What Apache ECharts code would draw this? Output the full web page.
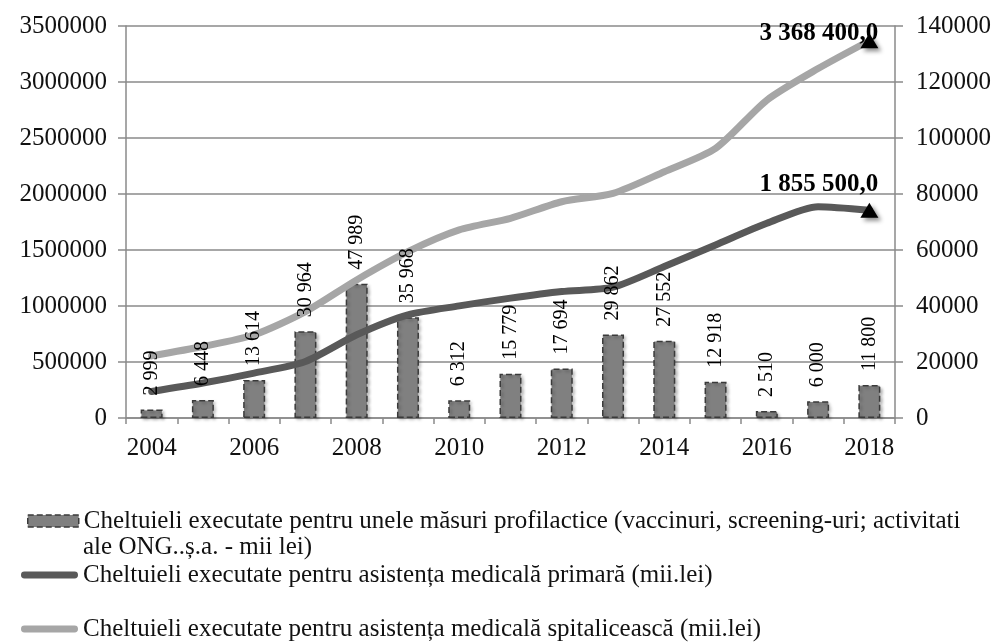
<!DOCTYPE html>
<html>
<head>
<meta charset="utf-8">
<script src="https://cdn.jsdelivr.net/npm/echarts@6/dist/echarts.min.js"></script>
<style>
html,body{margin:0;padding:0;background:#fff;}
#c{width:997px;height:642px;}
</style>
</head>
<body>
<div id="c"></div>
<script>
var years = ['2004','2005','2006','2007','2008','2009','2010','2011','2012','2013','2014','2015','2016','2017','2018'];
var profilactice = [2999, 6448, 13614, 30964, 47989, 35968, 6312, 15779, 17694, 29862, 27552, 12918, 2510, 6000, 11800];
var primara = [237000, 312000, 401000, 505000, 743000, 921000, 1001000, 1070000, 1129000, 1168000, 1352000, 1545000, 1738000, 1887000, 1855500];
var spitaliceasca = [555000, 638000, 743000, 950000, 1233000, 1485000, 1679000, 1783000, 1931000, 2006000, 2199000, 2407000, 2838000, 3120000, 3368400];
var endLabels = ['1 855 500,0', '3 368 400,0'];

var nameBar = 'Cheltuieli executate pentru unele măsuri profilactice (vaccinuri, screening-uri; activitati ale ONG..ș.a. - mii lei)';
var nameBarLine1 = 'Cheltuieli executate pentru unele măsuri profilactice (vaccinuri, screening-uri; activitati';
var nameBarLine2 = 'ale ONG..ș.a. - mii lei)';
var namePrim = 'Cheltuieli executate pentru asistența medicală primară (mii.lei)';
var nameSpit = 'Cheltuieli executate pentru asistența medicală spitalicească (mii.lei)';

var FONT = '"Liberation Serif", "Times New Roman", serif';
var GRID = '#8a8a8a';

function fmt(v){ return String(v).replace(/\B(?=(\d{3})+(?!\d))/g, ' '); }
function plain(v){ return String(v); }

function lineData(arr, lbl, dy){
  return arr.map(function(v, i){
    if (i === arr.length - 1) {
      return {
        value: v,
        symbol: 'triangle',
        symbolSize: [18, 15],
        itemStyle: {color: '#000', shadowBlur: 4, shadowOffsetX: 3, shadowOffsetY: 3, shadowColor: 'rgba(0,0,0,0.45)'},
        label: {
          show: true, formatter: lbl, position: [18, dy], align: 'right', verticalAlign: 'middle',
          fontFamily: FONT, fontSize: 25, fontWeight: 'bold', color: '#000'
        }
      };
    }
    return {value: v};
  });
}

var linePath = 'path://M3.5,0 H55.5 A3.5,3.5 0 0 1 55.5,7 H3.5 A3.5,3.5 0 0 1 3.5,0 Z';

var chart = echarts.init(document.getElementById('c'));
chart.setOption({
  animation: false,
  backgroundColor: '#fff',
  grid: {left: 126, right: 102, top: 26, bottom: 224},
  xAxis: {
    type: 'category', data: years, boundaryGap: true,
    axisLine: {lineStyle: {color: GRID, width: 1.5}},
    axisTick: {show: true, interval: 0, length: 6, lineStyle: {color: GRID, width: 1.5}},
    axisLabel: {interval: 1, margin: 18, fontFamily: FONT, fontSize: 25, color: '#111'}
  },
  yAxis: [{
    type: 'value', min: 0, max: 3500000, interval: 500000,
    axisLine: {show: true, lineStyle: {color: GRID, width: 1.5}},
    axisTick: {show: true, length: 8, lineStyle: {color: GRID, width: 1.5}},
    splitLine: {show: true, lineStyle: {color: GRID, width: 1.5}},
    axisLabel: {margin: 19, fontFamily: FONT, fontSize: 25, color: '#111', formatter: plain}
  }, {
    type: 'value', min: 0, max: 140000, interval: 20000, position: 'right',
    axisLine: {show: true, lineStyle: {color: GRID, width: 1.5}},
    axisTick: {show: true, length: 8, lineStyle: {color: GRID, width: 1.5}},
    splitLine: {show: false},
    axisLabel: {margin: 21, fontFamily: FONT, fontSize: 25, color: '#111', formatter: plain}
  }],
  legend: [{
    data: [{name: nameBar, icon: 'rect', itemStyle: {color: '#808080', borderColor: '#3a3a3a', borderWidth: 1.5, borderType: 'dashed'}}],
    formatter: function(){ return nameBarLine1; },
    left: 27, top: 507, padding: 0, itemWidth: 51, itemHeight: 12, selectedMode: false,
    textStyle: {fontFamily: FONT, fontSize: 25, color: '#111', lineHeight: 28}
  }, {
    data: [{name: namePrim, icon: linePath, itemStyle: {color: '#595959', borderWidth: 0}}],
    left: 21, top: 561, padding: 0, itemWidth: 57, itemHeight: 7, selectedMode: false,
    textStyle: {fontFamily: FONT, fontSize: 25, color: '#111', lineHeight: 28}
  }, {
    data: [{name: nameSpit, icon: linePath, itemStyle: {color: '#a6a6a6', borderWidth: 0}}],
    left: 21, top: 615, padding: 0, itemWidth: 57, itemHeight: 7, selectedMode: false,
    textStyle: {fontFamily: FONT, fontSize: 25, color: '#111', lineHeight: 28}
  }],
  graphic: [{
    type: 'text', left: 83, top: 535,
    style: {text: nameBarLine2, font: '25px ' + FONT, fill: '#111'}
  }],
  series: [{
    name: nameBar, type: 'bar', yAxisIndex: 1, data: profilactice, barWidth: 22,
    itemStyle: {color: '#808080', borderColor: '#3a3a3a', borderWidth: 1.5, borderType: 'dashed',
      shadowBlur: 3, shadowOffsetX: 2, shadowOffsetY: 2, shadowColor: 'rgba(0,0,0,0.25)'},
    z: 2
  }, {
    name: namePrim, type: 'line', yAxisIndex: 0, smooth: 0.25, symbol: 'none',
    data: lineData(primara, endLabels[0], -18),
    lineStyle: {color: '#595959', width: 7, cap: 'round', join: 'round'},
    itemStyle: {color: '#595959'},
    z: 3
  }, {
    name: nameSpit, type: 'line', yAxisIndex: 0, smooth: 0.25, symbol: 'none',
    data: lineData(spitaliceasca, endLabels[1], 0),
    lineStyle: {color: '#a6a6a6', width: 7, cap: 'round', join: 'round'},
    itemStyle: {color: '#a6a6a6'},
    z: 3
  }, {
    name: 'labels', type: 'bar', yAxisIndex: 1, data: profilactice, barWidth: 22, barGap: '-100%',
    itemStyle: {color: 'rgba(0,0,0,0)', borderWidth: 0},
    label: {show: true, position: 'top', rotate: 90, align: 'left', verticalAlign: 'middle', distance: 14,
      fontFamily: FONT, fontSize: 20, color: '#000', formatter: function(p){ return fmt(p.value); }},
    silent: true, z: 6
  }]
});
</script>
</body>
</html>
